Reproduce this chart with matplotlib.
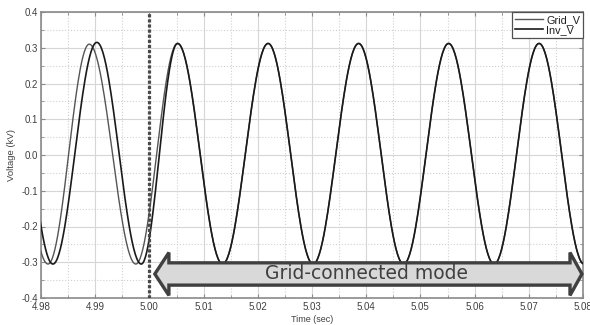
import matplotlib.pyplot as plt
import numpy as np
from matplotlib.patches import Polygon
from matplotlib.ticker import MultipleLocator


# --- Datos: extremos sucesivos de cada onda ---
GRID_T = [4.9727, 4.9813, 4.9889, 4.9975, 5.0052, 5.0135, 5.0219, 5.0302,
          5.0386, 5.0469, 5.0552, 5.0636, 5.0719, 5.0802, 5.0886]
GRID_KV = [0.310, -0.305, 0.310, -0.305, 0.312, -0.305, 0.312, -0.305,
           0.312, -0.305, 0.312, -0.305, 0.312, -0.305, 0.312]

INV_T = [4.9741, 4.9822, 4.9903, 4.9985, 5.0052, 5.0135, 5.0219, 5.0302,
         5.0386, 5.0469, 5.0552, 5.0636, 5.0719, 5.0802, 5.0886]
INV_KV = [0.315, -0.305, 0.315, -0.305, 0.312, -0.305, 0.312, -0.305,
          0.312, -0.305, 0.312, -0.305, 0.312, -0.305, 0.312]

T_CONNECT = 5.00
X_TICKS = [4.98, 4.99, 5.00, 5.01, 5.02, 5.03, 5.04, 5.05, 5.06, 5.07, 5.08]
Y_TICKS = [-0.4, -0.3, -0.2, -0.1, 0.0, 0.1, 0.2, 0.3, 0.4]
MODE_LABEL = "Grid-connected mode"

TEXT_GREY = '#404040'
FONT = 'Liberation Sans'


def half_waves(times, values, n=60):
    """Une extremos consecutivos con medias ondas cosenoidales."""
    ts, vs = [], []
    for t0, t1, v0, v1 in zip(times[:-1], times[1:], values[:-1], values[1:]):
        t = np.linspace(t0, t1, n)
        mid, amp = (v0 + v1) / 2, (v0 - v1) / 2
        ts.append(t)
        vs.append(mid + amp * np.cos(np.pi * (t - t0) / (t1 - t0)))
    return np.concatenate(ts), np.concatenate(vs)


fig = plt.figure(figsize=(5.9, 3.25), dpi=100)
ax = fig.add_axes([41 / 590, 1 - 298 / 325, 542 / 590, 286 / 325])

t_grid, v_grid = half_waves(GRID_T, GRID_KV)
t_inv, v_inv = half_waves(INV_T, INV_KV)
ax.plot(t_grid, v_grid, color='#555555', lw=1.0, label='Grid_V', zorder=3)
ax.plot(t_inv, v_inv, color='#1a1a1a', lw=1.2, label='Inv_V', zorder=4)

ax.axvline(T_CONNECT, color='#4a4a4a', lw=2.3, linestyle=(0, (1, 0.6)),
           zorder=5)

ax.set_xlim(X_TICKS[0], X_TICKS[-1])
ax.set_ylim(Y_TICKS[0], Y_TICKS[-1])
ax.set_xticks(X_TICKS)
ax.set_xticklabels([f"{x:.2f}" for x in X_TICKS])
ax.set_yticks(Y_TICKS)
ax.set_yticklabels([f"{y:.1f}" for y in Y_TICKS])
ax.xaxis.set_minor_locator(MultipleLocator(0.005))
ax.yaxis.set_minor_locator(MultipleLocator(0.05))

ax.grid(True, which='major', color='#d6d6d6', lw=0.8, zorder=0)
ax.grid(True, which='minor', color='#d0d0d0', lw=0.8, linestyle=':',
        zorder=0)
ax.set_axisbelow(True)

for spine in ax.spines.values():
    spine.set_color('#8a8a8a')
    spine.set_linewidth(1.2)

ax.tick_params(which='both', direction='in', top=True, right=True,
               colors='#8a8a8a', labelcolor=TEXT_GREY, labelsize=7, pad=2)
ax.tick_params(which='major', length=3)
ax.tick_params(which='minor', length=2)
ax.tick_params(axis='x', pad=3)
for lab in ax.get_xticklabels() + ax.get_yticklabels():
    lab.set_family(FONT)

ax.set_xlabel("Time (sec)", fontsize=6.5, family=FONT, color=TEXT_GREY,
              labelpad=2)
ax.set_ylabel("Voltage (kV)", fontsize=6.8, family=FONT, color=TEXT_GREY,
              labelpad=4)

leg = ax.legend(loc='upper right', borderaxespad=0, fancybox=False,
                framealpha=1, edgecolor='#505050',
                prop={'family': FONT, 'size': 7.8},
                handlelength=2.6, handletextpad=0.3, borderpad=0.25,
                labelspacing=0.05)
leg.get_frame().set_linewidth(0.9)
for txt in leg.get_texts():
    txt.set_color('#202020')

# --- Flecha doble "Grid-connected mode" (coordenadas de ejes) ---
xl, xlb, xrb, xr = 0.210, 0.236, 0.976, 0.998
yc, body, head = 0.084, 0.039, 0.075
arrow_pts = [
    (xl, yc), (xlb, yc + head), (xlb, yc + body), (xrb, yc + body),
    (xrb, yc + head), (xr, yc), (xrb, yc - head), (xrb, yc - body),
    (xlb, yc - body), (xlb, yc - head),
]
ax.add_patch(Polygon(arrow_pts, closed=True, transform=ax.transAxes,
                     facecolor='#d9d9d9', edgecolor='#404040', lw=2.4,
                     joinstyle='miter', clip_on=False, zorder=6))
ax.text(0.601, yc, MODE_LABEL, transform=ax.transAxes, ha='center',
        va='center', fontsize=13.5, color=TEXT_GREY, zorder=7)

fig.savefig('out.png', dpi=100)
